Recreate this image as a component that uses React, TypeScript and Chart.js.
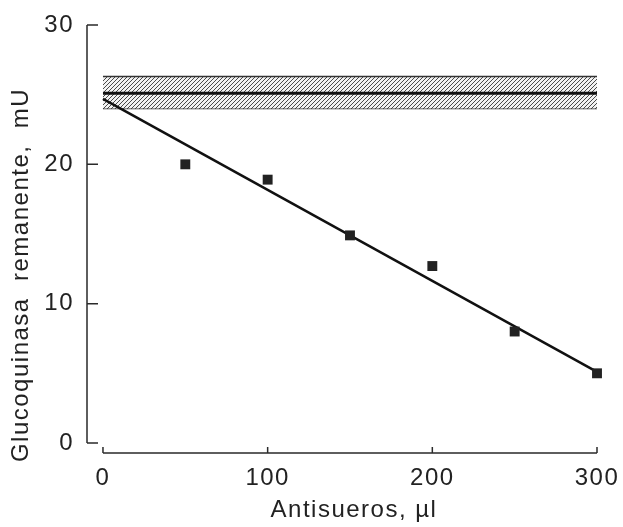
import React, { useEffect, useRef } from 'react';
import { Chart, registerables } from 'chart.js';

Chart.register(...registerables);

// ---- data ----
const antisueros = [50, 100, 150, 200, 250, 300];
const glucoquinasa = [20.0, 18.9, 14.9, 12.7, 8.0, 5.0];
const regresionX = [0, 300];
const regresionY = [24.7, 5.1];
const controlX = [0, 300];
const controlMedia = 25.1;
const controlSuperior = 26.3;
const controlInferior = 24.0;
const xTicks = [0, 100, 200, 300];
const yTicks = [0, 10, 20, 30];
const xTitle = 'Antisueros, µl';
const yTitle = 'Glucoquinasa  remanente,  mU';

const FONT = '"Liberation Sans", Arial, sans-serif';
const INK = '#222222';
const SPACING = '1.5px';

function setSpacing(chart: any) {
  const ctx = chart.ctx as any;
  if (ctx && 'letterSpacing' in ctx) ctx.letterSpacing = SPACING;
}

const spacingPlugin = {
  id: 'spacing',
  beforeUpdate: (c: any) => setSpacing(c),
  beforeLayout: (c: any) => setSpacing(c),
  beforeDraw: (c: any) => setSpacing(c),
};

const axesPlugin = {
  id: 'paperAxes',
  beforeDatasetsDraw(chart: any) {
    const { ctx, chartArea, scales } = chart;
    const x = scales.x;
    const y = scales.y;
    ctx.save();
    ctx.strokeStyle = '#2a2a2a';
    ctx.lineWidth = 1.5;
    ctx.lineCap = 'butt';
    const ax = chartArea.left;
    ctx.beginPath();
    ctx.moveTo(ax, y.getPixelForValue(yTicks[yTicks.length - 1]));
    ctx.lineTo(ax, y.getPixelForValue(yTicks[0]));
    yTicks.forEach((v) => {
      const py = y.getPixelForValue(v);
      ctx.moveTo(ax, py);
      ctx.lineTo(ax + 11, py);
    });
    const ay = chartArea.bottom;
    ctx.moveTo(x.getPixelForValue(xTicks[0]), ay);
    ctx.lineTo(x.getPixelForValue(xTicks[xTicks.length - 1]), ay);
    xTicks.forEach((v) => {
      const px = x.getPixelForValue(v);
      ctx.moveTo(px, ay);
      ctx.lineTo(px, ay - 6);
    });
    ctx.stroke();
    ctx.restore();
  },
};

const titlesPlugin = {
  id: 'paperTitles',
  afterDraw(chart: any) {
    const { ctx, chartArea } = chart;
    ctx.save();
    setSpacing(chart);
    ctx.fillStyle = INK;
    ctx.font = `24px ${FONT}`;
    ctx.textAlign = 'center';
    ctx.textBaseline = 'middle';
    ctx.fillText(xTitle, chartArea.left + 267, chartArea.bottom + 57);
    ctx.translate(21, chartArea.top + 250);
    ctx.rotate(-Math.PI / 2);
    ctx.fillText(yTitle, 0, 0);
    ctx.restore();
  },
};

function makeHatch(): CanvasPattern | string {
  const pc = document.createElement('canvas');
  pc.width = 4;
  pc.height = 4;
  const p = pc.getContext('2d');
  if (!p) return '#bbbbbb';
  p.fillStyle = '#f2f2f2';
  p.fillRect(0, 0, 4, 4);
  p.strokeStyle = '#4a4a4a';
  p.lineWidth = 1;
  p.beginPath();
  p.moveTo(-1, 5);
  p.lineTo(5, -1);
  p.moveTo(-1, 1);
  p.lineTo(1, -1);
  p.moveTo(3, 5);
  p.lineTo(5, 3);
  p.stroke();
  const pat = p.createPattern(pc, 'repeat');
  return pat || '#bbbbbb';
}

export default function App() {
  const ref = useRef<HTMLCanvasElement | null>(null);

  useEffect(() => {
    if (!ref.current) return;
    const hatch = makeHatch();
    const chart = new Chart(ref.current, {
      type: 'scatter',
      data: {
        datasets: [
          {
            label: 'Glucoquinasa',
            data: antisueros.map((v, i) => ({ x: v, y: glucoquinasa[i] })),
            pointStyle: 'rect',
            pointRadius: 7,
            backgroundColor: INK,
            borderColor: INK,
            borderWidth: 0,
            showLine: false,
            clip: false as any,
          },
          {
            label: 'Regresión',
            data: regresionX.map((v, i) => ({ x: v, y: regresionY[i] })),
            showLine: true,
            borderColor: '#111111',
            borderWidth: 2.5,
            pointRadius: 0,
            fill: false,
            clip: false as any,
          },
          {
            label: 'Control',
            data: controlX.map((v) => ({ x: v, y: controlMedia })),
            showLine: true,
            borderColor: '#111111',
            borderWidth: 3,
            pointRadius: 0,
            fill: false,
            clip: false as any,
          },
          {
            label: 'Control superior',
            data: controlX.map((v) => ({ x: v, y: controlSuperior })),
            showLine: true,
            borderColor: '#333333',
            borderWidth: 1.5,
            pointRadius: 0,
            backgroundColor: hatch as any,
            fill: '+1',
            clip: false as any,
          },
          {
            label: 'Control inferior',
            data: controlX.map((v) => ({ x: v, y: controlInferior })),
            showLine: true,
            borderColor: '#333333',
            borderWidth: 1.5,
            pointRadius: 0,
            fill: false,
            clip: false as any,
          },
        ],
      },
      options: {
        responsive: false,
        animation: false,
        devicePixelRatio: 1,
        layout: { padding: { top: 25, right: 26, left: 0, bottom: 0 } },
        plugins: {
          legend: { display: false },
          tooltip: { enabled: false },
          title: { display: false },
        },
        scales: {
          x: {
            type: 'linear',
            min: -9.7,
            max: 300,
            grid: { display: false, drawTicks: false },
            border: { display: false },
            afterBuildTicks: (s: any) => {
              s.ticks = xTicks.map((v) => ({ value: v }));
            },
            afterFit: (s: any) => {
              s.height = 74;
              s.paddingLeft = 0;
              s.paddingRight = 0;
            },
            ticks: {
              autoSkip: false,
              maxRotation: 0,
              padding: 11,
              color: INK,
              font: { family: FONT, size: 24 },
              callback: (v: any) => String(v),
            },
          },
          y: {
            type: 'linear',
            min: -0.72,
            max: 30,
            grid: { display: false, drawTicks: false },
            border: { display: false },
            afterBuildTicks: (s: any) => {
              s.ticks = yTicks.map((v) => ({ value: v }));
            },
            afterFit: (s: any) => {
              s.width = 87;
              s.paddingTop = 0;
              s.paddingBottom = 0;
            },
            ticks: {
              autoSkip: false,
              padding: 13,
              color: INK,
              font: { family: FONT, size: 24 },
              callback: (v: any) => String(v),
            },
          },
        },
      },
      plugins: [spacingPlugin, axesPlugin, titlesPlugin],
    });
    return () => chart.destroy();
  }, []);

  return (
    <div style={{ position: 'absolute', left: 0, top: 0, width: 623, height: 527, background: '#ffffff' }}>
      <canvas ref={ref} width={623} height={527} style={{ display: 'block', width: 623, height: 527 }} />
    </div>
  );
}
